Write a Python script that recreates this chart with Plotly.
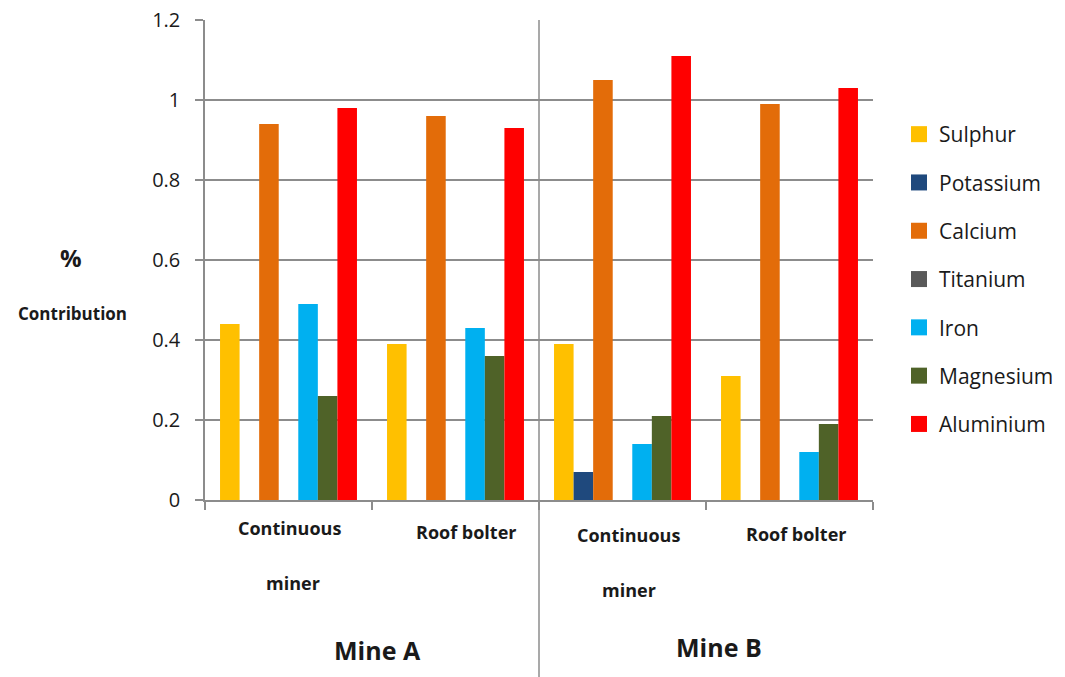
import plotly.graph_objects as go

# ---- data ----
mines = ["Mine A", "Mine A", "Mine B", "Mine B"]
machines = ["Continuous miner", "Roof bolter", "Continuous miner", "Roof bolter"]
elements = ["Sulphur", "Potassium", "Calcium", "Titanium", "Iron", "Magnesium", "Aluminium"]
sulphur = [0.44, 0.39, 0.39, 0.31]
potassium = [0.0, 0.0, 0.07, 0.0]
calcium = [0.94, 0.96, 1.05, 0.99]
titanium = [0.0, 0.0, 0.0, 0.0]
iron = [0.49, 0.43, 0.14, 0.12]
magnesium = [0.26, 0.36, 0.21, 0.19]
aluminium = [0.98, 0.93, 1.11, 1.03]
y_ticks = [0, 0.2, 0.4, 0.6, 0.8, 1, 1.2]

series = [sulphur, potassium, calcium, titanium, iron, magnesium, aluminium]
colors = ["#FFC000", "#1F497D", "#E36C09", "#595959", "#00B0F0", "#4F6228", "#FF0000"]

FONT = "Open Sans"
TEXT = "#1a1a1a"
GRID = "#8c8c8c"

W, H = 1065, 677
L, R, T, B = 205, 192, 20, 177
PLOT_H = H - T - B
PLOT_W = W - L - R


def py(pixel_y):
    """Convert a pixel row into paper y."""
    return 1 - (pixel_y - T) / PLOT_H


def px(pixel_x):
    """Convert a pixel column into paper x."""
    return (pixel_x - L) / PLOT_W


keys = [f"{m} | {c}" for m, c in zip(mines, machines)]

fig = go.Figure()
for name, vals, col in zip(elements, series, colors):
    fig.add_trace(go.Bar(x=keys, y=vals, name=name, marker=dict(color=col, line=dict(width=0)),
                         showlegend=False, legendgroup=name))
# legend swatches
for name, col in zip(elements, colors):
    fig.add_trace(go.Scatter(x=[None], y=[None], mode="markers", name=name, legendgroup=name,
                             marker=dict(symbol="square", size=16, color=col)))

fig.update_layout(
    width=W, height=H,
    margin=dict(l=L, r=R, t=T, b=B, pad=0, autoexpand=False),
    paper_bgcolor="white", plot_bgcolor="white",
    barmode="group", bargap=0.18, bargroupgap=0,
    font=dict(family=FONT, color=TEXT),
    legend=dict(x=px(899), xanchor="left", y=py(114), yanchor="top",
                font=dict(size=21, family=FONT, color=TEXT),
                tracegroupgap=18, itemsizing="trace", bgcolor="rgba(0,0,0,0)"),
)

fig.update_xaxes(
    type="category", categoryorder="array", categoryarray=keys,
    showticklabels=False, ticks="outside", tickson="boundaries", ticklen=8,
    tickcolor=GRID, tickwidth=1.5, automargin=False,
    showline=True, linecolor=GRID, linewidth=1.5, showgrid=False, zeroline=False,
)
fig.update_yaxes(
    range=[0, 1.2], tickmode="array", tickvals=y_ticks, ticktext=[f"{v:g}" for v in y_ticks],
    ticks="outside", ticklen=8, tickcolor=GRID, tickwidth=1.5, ticklabelstandoff=11,
    tickfont=dict(size=20, family=FONT, color=TEXT), automargin=False,
    showgrid=True, gridcolor=GRID, gridwidth=1.5,
    showline=True, linecolor=GRID, linewidth=1.5, zeroline=False,
)

# divider between the two mines
fig.add_shape(type="line", xref="x", yref="paper", x0=1.5, x1=1.5, y0=-0.4, y1=1,
              line=dict(color=GRID, width=1.5), layer="below")

# category labels: (text, pixel row, horizontal nudge)
ann = []
machine_rows = {
    0: [("Continuous", 528, 1), ("miner", 583, 4)],
    1: [("Roof bolter", 532, 10)],
    2: [("Continuous", 535, 6), ("miner", 590, 6)],
    3: [("Roof bolter", 534, 6)],
}
for i, rows in machine_rows.items():
    for txt, y, dx in rows:
        ann.append(dict(x=i, xref="x", y=py(y), yref="paper", text=f"<b>{txt}</b>", showarrow=False,
                        xshift=dx, font=dict(size=18, family=FONT, color=TEXT),
                        xanchor="center", yanchor="middle"))
for pos, mine, y, dx in [(0.5, "Mine A", 650, 5), (2.5, "Mine B", 647, 13)]:
    ann.append(dict(x=pos, xref="x", y=py(y), yref="paper", text=f"<b>{mine}</b>", showarrow=False,
                    xshift=dx, font=dict(size=25, family=FONT, color=TEXT),
                    xanchor="center", yanchor="middle"))

# y-axis title
ann.append(dict(x=px(71), xref="paper", y=py(257), yref="paper", text="<b>%</b>", showarrow=False,
                font=dict(size=24, family=FONT, color=TEXT), xanchor="center", yanchor="middle"))
ann.append(dict(x=px(72), xref="paper", y=py(313), yref="paper", text="<b>Contribution</b>",
                showarrow=False, font=dict(size=17, family=FONT, color=TEXT),
                xanchor="center", yanchor="middle"))

fig.update_layout(annotations=ann)

fig.write_html("out.html")
